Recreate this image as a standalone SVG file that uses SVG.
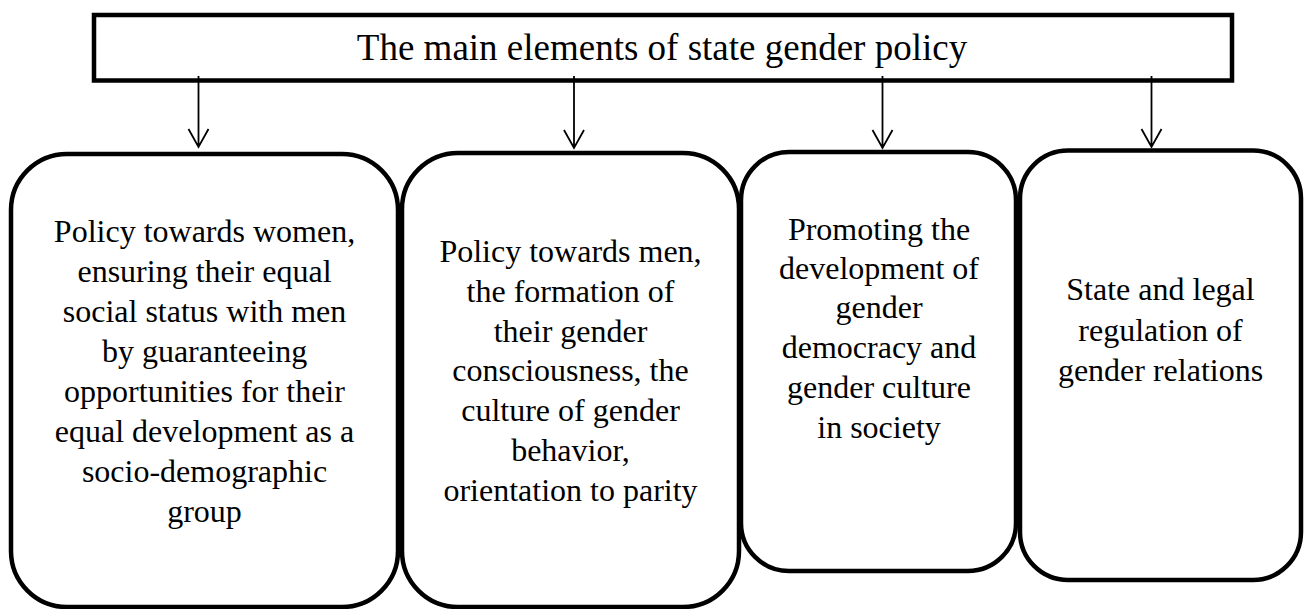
<svg xmlns="http://www.w3.org/2000/svg" width="1304" height="609" viewBox="0 0 1304 609">
<style>
.box{fill:#fff;stroke:#000;stroke-width:4.5}
.t{font-family:"Liberation Serif","Times New Roman",serif;font-size:32px;fill:#000;text-anchor:middle}
.title{font-family:"Liberation Serif","Times New Roman",serif;font-size:37px;fill:#000;text-anchor:middle}
.c{fill:none;stroke:#000;stroke-width:1.8}
</style>
<rect width="1304" height="609" fill="#fff"/>
<g id="title">
<rect class="box" x="94" y="15" width="1138" height="65.5"/>
<text class="title" x="662" y="60">The main elements of state gender policy</text>
</g>
<g id="node1">
<rect class="box" x="11" y="154" width="387" height="453" rx="56" ry="56"/>
<text class="t" x="204.5" y="242">Policy towards women,</text>
<text class="t" x="204.5" y="282">ensuring their equal</text>
<text class="t" x="204.5" y="322">social status with men</text>
<text class="t" x="204.5" y="362">by guaranteeing</text>
<text class="t" x="204.5" y="402">opportunities for their</text>
<text class="t" x="204.5" y="442">equal development as a</text>
<text class="t" x="204.5" y="482">socio-demographic</text>
<text class="t" x="204.5" y="522">group</text>
</g>
<g id="node2">
<rect class="box" x="402" y="153" width="337" height="454" rx="56" ry="56"/>
<text class="t" x="570.5" y="262">Policy towards men,</text>
<text class="t" x="570.5" y="302">the formation of</text>
<text class="t" x="570.5" y="342">their gender</text>
<text class="t" x="570.5" y="381">consciousness, the</text>
<text class="t" x="570.5" y="421">culture of gender</text>
<text class="t" x="570.5" y="461">behavior,</text>
<text class="t" x="570.5" y="501">orientation to parity</text>
</g>
<g id="node3">
<rect class="box" x="741" y="152" width="275" height="419" rx="48" ry="48"/>
<text class="t" x="879" y="240">Promoting the</text>
<text class="t" x="879" y="279">development of</text>
<text class="t" x="879" y="318">gender</text>
<text class="t" x="879" y="358">democracy and</text>
<text class="t" x="879" y="398">gender culture</text>
<text class="t" x="879" y="438">in society</text>
</g>
<g id="node4">
<rect class="box" x="1020" y="150.5" width="281" height="429.5" rx="48" ry="48"/>
<text class="t" x="1160.5" y="300">State and legal</text>
<text class="t" x="1160.5" y="341">regulation of</text>
<text class="t" x="1160.5" y="381">gender relations</text>
</g>
<g id="connectors">
<path class="c" d="M198.5 76V147M188.5 129L198.5 147L208.5 129"/>
<path class="c" d="M574 76V148M564 130L574 148L584 130"/>
<path class="c" d="M882.5 76V148M872.5 130L882.5 148L892.5 130"/>
<path class="c" d="M1151.5 76V147M1141.5 129L1151.5 147L1161.5 129"/>
</g>
</svg>
